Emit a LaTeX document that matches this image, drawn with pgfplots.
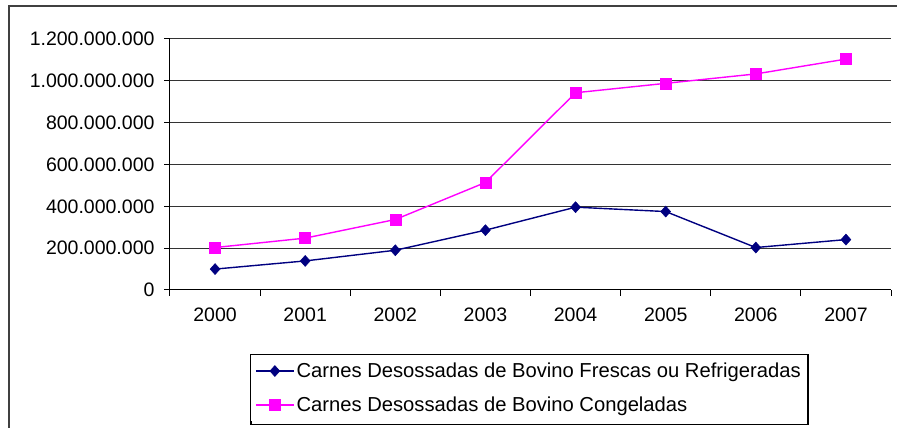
\documentclass[border=0pt]{standalone}
\usepackage{fontspec}
\setmainfont{Liberation Sans}
\usepackage{pgfplots}
\pgfplotsset{compat=1.18}
\definecolor{navyc}{RGB}{0,0,128}
\definecolor{magc}{RGB}{255,0,255}
\begin{document}
\begin{tikzpicture}[x=1pt,y=1pt]
\useasboundingbox (0,0) rectangle (897,428);
\draw[line width=1.3pt, black!75] (9,0) -- (9,422) -- (897,422);
\draw[line width=1.1pt, black] (251,3.5) rectangle (808,73);
\begin{axis}[
  at={(170pt,138pt)}, anchor=south west,
  scale only axis, width=721pt, height=251pt,
  xmin=-0.5, xmax=7.5, ymin=0, ymax=1200000000,
  scaled y ticks=false,
  axis lines=left, axis line style={-, line width=1pt, black},
  xtick={0,...,7},
  xticklabels={2000,2001,2002,2003,2004,2005,2006,2007},
  major x tick style={draw=none},
  minor xtick={-0.5,0.5,...,7.5},
  minor tick length=6pt,
  minor x tick style={line width=1pt, black},
  ytick={0,200000000,400000000,600000000,800000000,1000000000,1200000000},
  yticklabels={0,200.000.000,400.000.000,600.000.000,800.000.000,1.000.000.000,1.200.000.000},
  major tick length=6pt,
  tick align=outside,
  major y tick style={line width=1pt, black},
  ymajorgrids, major grid style={line width=1pt, black!80},
  tick label style={font=\fontsize{19.5}{23}\selectfont},
  yticklabel style={xshift=-6pt},
  xticklabel style={yshift=-8pt},
  legend style={at={(0.1123,-0.258)}, anchor=north west, draw=none,
    font=\fontsize{20.2}{24}\selectfont, legend cell align=left,
    inner xsep=4pt, inner ysep=6pt, row sep=14pt},
  legend image code/.code={\draw[line width=1.4pt, mark repeat=2,mark phase=2] plot coordinates {(0pt,0pt)(19pt,0pt)(38pt,0pt)};},
  clip=false,
]
\addplot[navyc, line width=1.4pt, mark=diamond*, mark size=5.5pt, mark options={fill=navyc, draw=navyc, line width=0.5pt, xscale=1.2}]
  coordinates {(0,100000000) (1,139000000) (2,190000000) (3,286000000) (4,396000000) (5,375000000) (6,203000000) (7,241000000)};
\addlegendentry{Carnes Desossadas de Bovino Frescas ou Refrigeradas}
\addplot[magc, line width=1.4pt, mark=square*, mark size=5.5pt, mark options={fill=magc, draw=magc, line width=0.5pt}]
  coordinates {(0,203000000) (1,248000000) (2,337000000) (3,514000000) (4,943000000) (5,988000000) (6,1033000000) (7,1104000000)};
\addlegendentry{Carnes Desossadas de Bovino Congeladas}
\end{axis}
\end{tikzpicture}
\end{document}
